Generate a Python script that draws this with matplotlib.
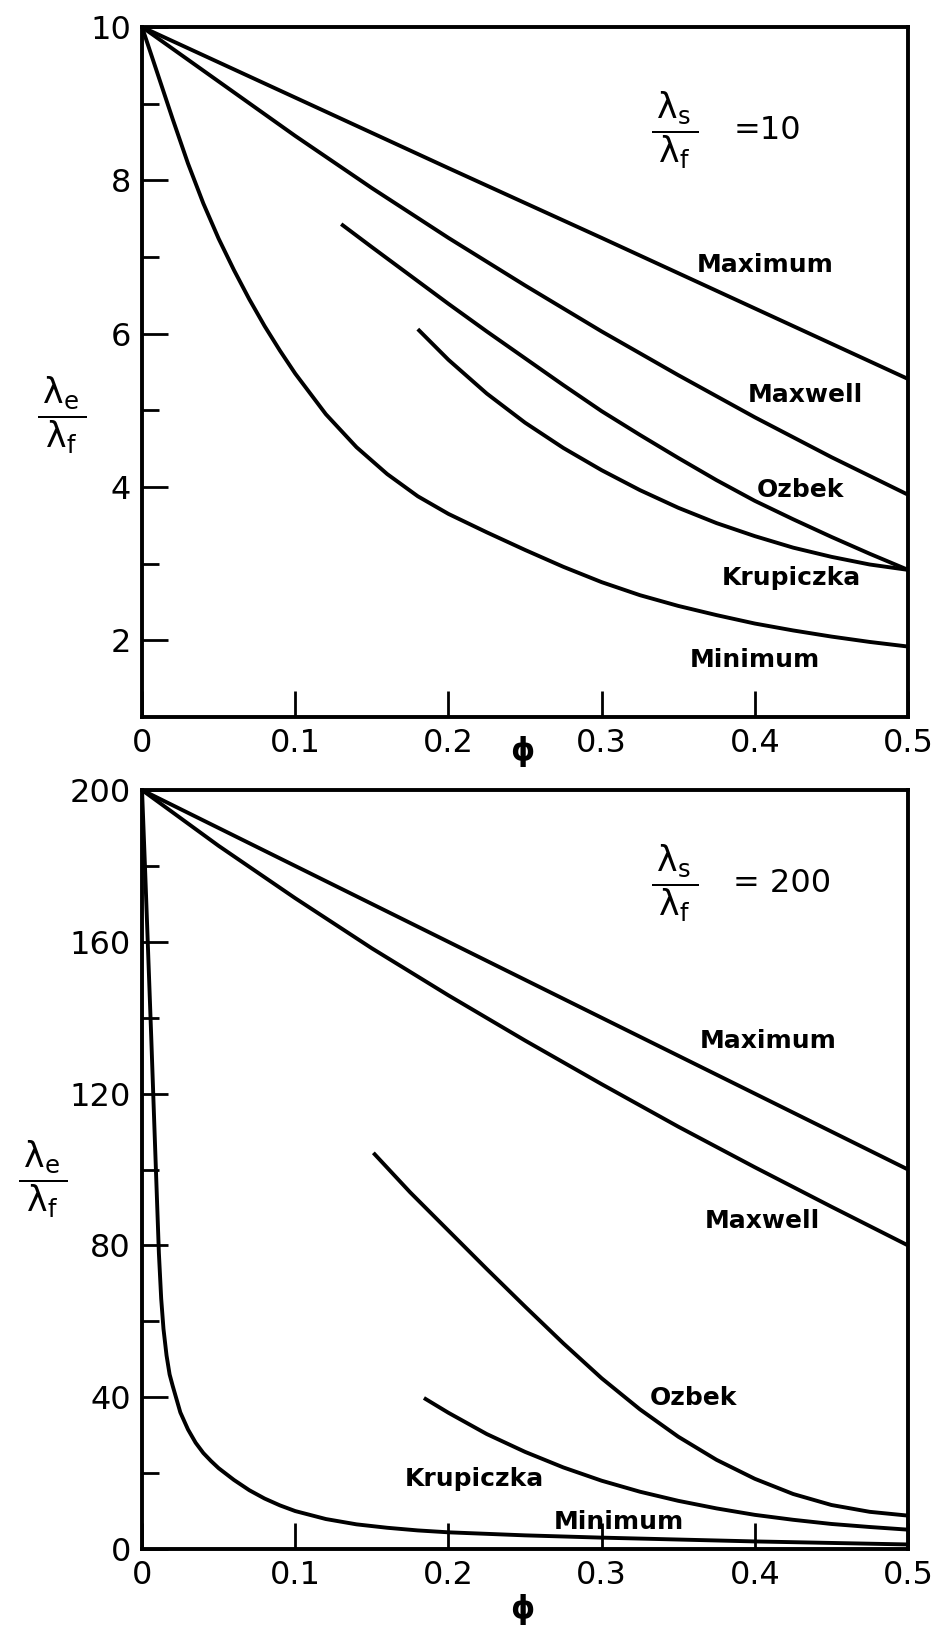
"""
Conductivité effective λe/λf en fonction de la porosité φ
Deux panneaux : λs/λf = 10 et λs/λf = 200
"""

import matplotlib
matplotlib.use("Agg")
import matplotlib.pyplot as plt

plt.rcParams['font.family'] = ['DejaVu Sans']
plt.rcParams['mathtext.fontset'] = 'custom'
plt.rcParams['mathtext.rm'] = 'DejaVu Sans'
plt.rcParams['mathtext.it'] = 'DejaVu Sans'
plt.rcParams['mathtext.bf'] = 'DejaVu Sans:bold'

# ---- Panneau haut : λs/λf = 10
phi_max_10 = [0, 0.1, 0.2, 0.3, 0.4, 0.5]
val_max_10 = [10, 9.08, 8.16, 7.25, 6.33, 5.41]

phi_maxwell_10 = [0, 0.05, 0.1, 0.15, 0.2, 0.25, 0.3, 0.35, 0.4, 0.45, 0.5]
val_maxwell_10 = [10, 9.29, 8.58, 7.9, 7.25, 6.63, 6.03, 5.46, 4.91, 4.39, 3.9]

phi_ozbek_10 = [0.13, 0.15, 0.175, 0.2, 0.225, 0.25, 0.275, 0.3, 0.325,
                0.35, 0.375, 0.4, 0.425, 0.45, 0.475, 0.5]
val_ozbek_10 = [7.43, 7.13, 6.76, 6.39, 6.03, 5.68, 5.33, 4.99, 4.68,
                4.38, 4.09, 3.82, 3.58, 3.35, 3.13, 2.92]

phi_krup_10 = [0.18, 0.2, 0.225, 0.25, 0.275, 0.3, 0.325, 0.35, 0.375,
               0.4, 0.425, 0.45, 0.475, 0.5]
val_krup_10 = [6.06, 5.66, 5.22, 4.84, 4.51, 4.22, 3.96, 3.73, 3.53,
               3.36, 3.21, 3.09, 2.99, 2.92]

phi_min_10 = [0, 0.01, 0.02, 0.03, 0.04, 0.05, 0.06, 0.07, 0.08, 0.09, 0.1,
              0.12, 0.14, 0.16, 0.18, 0.2, 0.225, 0.25, 0.275, 0.3, 0.325,
              0.35, 0.375, 0.4, 0.425, 0.45, 0.475, 0.5]
val_min_10 = [10, 9.4, 8.8, 8.22, 7.7, 7.24, 6.83, 6.45, 6.1, 5.78, 5.48,
              4.95, 4.52, 4.17, 3.88, 3.65, 3.41, 3.18, 2.96, 2.76, 2.59,
              2.45, 2.33, 2.22, 2.13, 2.05, 1.98, 1.92]

# ---- Panneau bas : λs/λf = 200
phi_max_200 = [0, 0.1, 0.2, 0.3, 0.4, 0.5]
val_max_200 = [200, 180, 160, 140, 120, 100]

phi_maxwell_200 = [0, 0.05, 0.1, 0.15, 0.2, 0.25, 0.3, 0.35, 0.4, 0.45, 0.5]
val_maxwell_200 = [200, 185.3, 171.5, 158.3, 145.9, 134, 122.5, 111.3, 100.6, 90.2, 80]

phi_ozbek_200 = [0.151, 0.175, 0.2, 0.225, 0.25, 0.275, 0.3, 0.325, 0.35,
                 0.375, 0.4, 0.425, 0.45, 0.475, 0.5]
val_ozbek_200 = [104.4, 94.0, 83.9, 73.8, 63.9, 54.2, 45.0, 36.8, 29.6,
                 23.5, 18.5, 14.5, 11.6, 9.8, 8.8]

phi_krup_200 = [0.184, 0.2, 0.225, 0.25, 0.275, 0.3, 0.325, 0.35, 0.375,
                0.4, 0.425, 0.45, 0.475, 0.5]
val_krup_200 = [39.8, 35.9, 30.3, 25.6, 21.5, 18.0, 15.1, 12.7, 10.7,
                9.0, 7.7, 6.6, 5.8, 5.1]

phi_min_200 = [0, 0.002, 0.004, 0.006, 0.008, 0.0095, 0.011, 0.0125, 0.014,
               0.016, 0.018, 0.02, 0.025, 0.03, 0.035, 0.04, 0.045, 0.05,
               0.06, 0.07, 0.08, 0.09, 0.1, 0.12, 0.14, 0.16, 0.18, 0.2,
               0.25, 0.3, 0.35, 0.4, 0.45, 0.5]
val_min_200 = [200, 179, 157, 135, 112, 95, 78, 66, 58,
               51, 46, 43, 36, 31.5, 28, 25.3, 23.2, 21.3,
               18.2, 15.5, 13.3, 11.5, 10.0, 7.9, 6.5, 5.6, 4.9, 4.4,
               3.6, 3.0, 2.5, 2.0, 1.6, 1.2]

# Graduations
x_ticks = [0, 0.1, 0.2, 0.3, 0.4, 0.5]
x_labels = ["0", "0.1", "0.2", "0.3", "0.4", "0.5"]
y_ticks_10 = [2, 4, 6, 8, 10]
y_minor_10 = [3, 5, 7, 9]
y_ticks_200 = [0, 40, 80, 120, 160, 200]
y_minor_200 = [20, 60, 100, 140, 180]

# Étiquettes des courbes (texte, φ, valeur)
etiquettes_10 = [("Maximum", 0.407, 6.90), ("Maxwell", 0.433, 5.20),
                 ("Ozbek", 0.430, 3.96), ("Krupiczka", 0.424, 2.82),
                 ("Minimum", 0.400, 1.75)]
etiquettes_200 = [("Maximum", 0.409, 133.9), ("Maxwell", 0.405, 86.4),
                  ("Ozbek", 0.360, 39.8), ("Krupiczka", 0.217, 18.5),
                  ("Minimum", 0.311, 7.2)]

LW = 2.8
FRAC_S = r'$\dfrac{\,\lambda_s\,}{\,\lambda_f\,}$'
FRAC_E = r'$\dfrac{\,\lambda_e\,}{\,\lambda_f\,}$'


def tracer_panneau(ax, courbes, ylim, yticks, yminor, etiquettes, rapport, pos_rapport, ylab_pos, xlab_y):
    """Trace un panneau avec ses courbes, graduations et annotations"""
    for phi, val in courbes:
        ax.plot(phi, val, color='black', lw=LW, solid_capstyle='butt')

    ax.set_xlim(0, 0.5)
    ax.set_ylim(*ylim)
    ax.set_xticks(x_ticks)
    ax.set_xticklabels(x_labels)
    ax.set_yticks(yticks)
    ax.set_yticks(yminor, minor=True)
    ax.tick_params(axis='both', which='major', direction='in', length=19, width=2,
                   labelsize=23, pad=8)
    ax.tick_params(axis='y', which='minor', direction='in', length=12, width=2)
    for sp in ax.spines.values():
        sp.set_linewidth(2.8)

    for texte, x, y in etiquettes:
        ax.text(x, y, texte, fontsize=18, fontweight='bold', ha='center', va='center')

    # Rapport λs/λf
    fx, fy = pos_rapport
    ax.text(fx, fy, FRAC_S, fontsize=25, ha='center', va='center')
    ax.text(fx + 0.038, fy, rapport, fontsize=23, ha='left', va='center')

    # Axe y : λe/λf, axe x : φ
    ax.text(ylab_pos[0], ylab_pos[1], FRAC_E, fontsize=25,
            ha='center', va='center', transform=ax.transAxes)
    ax.text(0.496, xlab_y, 'ϕ', fontsize=22, fontweight='bold', ha='center', va='center',
            transform=ax.transAxes)


fig = plt.figure(figsize=(9.45, 16.29), dpi=100)
ax_haut = fig.add_axes([0.1503, 0.5598, 0.8106, 0.4236])
ax_bas = fig.add_axes([0.1503, 0.0491, 0.8106, 0.4659])

tracer_panneau(ax_haut,
               [(phi_max_10, val_max_10), (phi_maxwell_10, val_maxwell_10),
                (phi_ozbek_10, val_ozbek_10), (phi_krup_10, val_krup_10),
                (phi_min_10, val_min_10)],
               (1, 10), y_ticks_10, y_minor_10, etiquettes_10,
               "=10", (0.348, 8.65), (-0.104, 0.438), -0.05)

tracer_panneau(ax_bas,
               [(phi_max_200, val_max_200), (phi_maxwell_200, val_maxwell_200),
                (phi_ozbek_200, val_ozbek_200), (phi_krup_200, val_krup_200),
                (phi_min_200, val_min_200)],
               (0, 200), y_ticks_200, y_minor_200, etiquettes_200,
               "= 200", (0.348, 175.5), (-0.13, 0.487), -0.08)

plt.savefig("out.png", dpi=100)
